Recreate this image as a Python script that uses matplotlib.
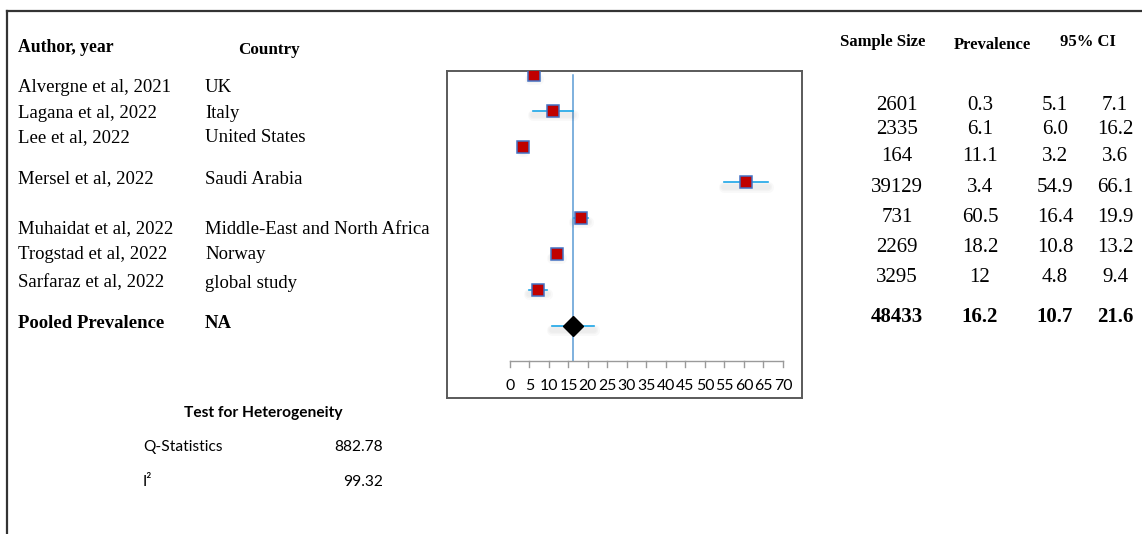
import matplotlib
matplotlib.use('Agg')
import matplotlib.pyplot as plt
import matplotlib.patheffects as pe
from matplotlib.lines import Line2D

# study table
authors = ['Alvergne et al, 2021', 'Lagana et al, 2022', 'Lee et al, 2022', 'Mersel et al, 2022',
           'Muhaidat et al, 2022', 'Trogstad et al, 2022', 'Sarfaraz et al, 2022']
countries = ['UK', 'Italy', 'United States', 'Saudi Arabia',
             'Middle-East and North Africa', 'Norway', 'global study']
sample_size = [2601, 2335, 164, 39129, 731, 2269, 3295]
prevalence = ['0.3', '6.1', '11.1', '3.4', '60.5', '18.2', '12']
ci_low = [5.1, 6.0, 3.2, 54.9, 16.4, 10.8, 4.8]
ci_high = [7.1, 16.2, 3.6, 66.1, 19.9, 13.2, 9.4]

# point estimates drawn in the forest plot
estimate = [6.1, 11.1, 3.4, 60.5, 18.2, 12.0, 7.1]

pooled_label = 'Pooled Prevalence'
pooled_country = 'NA'
pooled_n = 48433
pooled_est = 16.2
pooled_low = 10.7
pooled_high = 21.6

q_stat = 882.78
i_squared = 99.32

x_ticks = list(range(0, 75, 5))

W, H = 1142, 534
serif = 'Liberation Serif'
sans = 'Lato'

fig = plt.figure(figsize=(W / 100, H / 100), dpi=100)


def px(x, y):
    return x / W, 1 - y / H


def put(x, y, s, **kw):
    fx, fy = px(x, y)
    fig.text(fx, fy, s, va='center', **kw)


# outer frame (top and left edges)
fig.add_artist(Line2D([7 / W, 1], [1 - 11 / H] * 2, color='#333333', lw=1.6))
fig.add_artist(Line2D([7 / W] * 2, [0, 1 - 11 / H], color='#333333', lw=1.6))

# left table
put(18, 47, 'Author, year', family=serif, fontsize=12.7, weight='bold')
put(238, 50, 'Country', family=serif, fontsize=12.3, weight='bold')
left_y = [88, 113, 138, 179, 229, 255, 283]
for y, a, c in zip(left_y, authors, countries):
    put(18, y, a, family=serif, fontsize=13.5)
    put(205, y, c, family=serif, fontsize=13.5)
put(18, 323, pooled_label, family=serif, fontsize=13.5, weight='bold')
put(205, 323, pooled_country, family=serif, fontsize=13.5, weight='bold')

# right table
put(883, 42, 'Sample Size', family=serif, fontsize=12, weight='bold', ha='center')
put(992, 45, 'Prevalence', family=serif, fontsize=12, weight='bold', ha='center')
put(1088, 42, '95% CI', family=serif, fontsize=12, weight='bold', ha='center')
right_y = [105, 130, 157, 187, 217, 247, 277]
col_x = [897, 980, 1055, 1115]
for y, n, p, lo, hi in zip(right_y, sample_size, prevalence, ci_low, ci_high):
    for x, s in zip(col_x, [str(n), p, f'{lo:.1f}', f'{hi:.1f}']):
        put(x, y, s, family=serif, fontsize=15, ha='center')
for x, s in zip(col_x, [str(pooled_n), f'{pooled_est:.1f}', f'{pooled_low:.1f}', f'{pooled_high:.1f}']):
    put(x, 317, s, family=serif, fontsize=15, weight='bold', ha='center')

# heterogeneity block
put(263, 413, 'Test for Heterogeneity', family=sans, fontsize=11.2, weight='bold', ha='center')
put(143, 447, 'Q-Statistics', family=sans, fontsize=11.2)
put(383, 447, f'{q_stat:.2f}', family=sans, fontsize=11.2, ha='right')
put(143, 482, 'I²', family=sans, fontsize=11.2)
put(383, 482, f'{i_squared:.2f}', family=sans, fontsize=11.2, ha='right')

# forest plot
l, r, t, b = 447, 802, 71, 398
ax = fig.add_axes([l / W, 1 - b / H, (r - l) / W, (b - t) / H])
ax.set_xlim(-16.15, 74.9)
ax.set_ylim(9.02, -0.11)
ax.set_xticks([])
ax.set_yticks([])
for s in ax.spines.values():
    s.set_color('#5a5a5a')
    s.set_linewidth(1.4)

rows = list(range(len(estimate)))
pooled_row = len(estimate)
axis_row = pooled_row + 1

# soft drop shadow under the interval lines
shadow = [pe.SimpleLineShadow(offset=(0, -3), shadow_color='k', alpha=0.025, linewidth=w,
                              capstyle='round')
          for w in (8, 6, 4)] + [pe.Normal()]
for i, lo, hi in zip(rows, ci_low, ci_high):
    ax.plot([lo, hi], [i, i], color='#1CA6E8', lw=1.2, path_effects=shadow, zorder=2)
ax.plot([pooled_low, pooled_high], [pooled_row] * 2, color='#1CA6E8', lw=1.2,
        path_effects=shadow, zorder=2)

ax.plot([pooled_est, pooled_est], [0, axis_row], color='#5B9BD5', lw=1.1, zorder=1)

ax.plot(estimate, rows, ls='none', marker='s', ms=8.5, mfc='#C00000', mec='#4472C4',
        mew=1.1, zorder=3)
ax.plot([pooled_est], [pooled_row], ls='none', marker='D', ms=10.5, mfc='black', mec='black',
        zorder=3)

# hand-drawn x axis inside the box
ax.plot([x_ticks[0], x_ticks[-1]], [axis_row] * 2, color='#9a9a9a', lw=1.0, zorder=1)
for xt in x_ticks:
    ax.plot([xt, xt], [axis_row, axis_row + 0.15], color='#9a9a9a', lw=1.0)
    ax.text(xt, axis_row + 0.68, str(xt), ha='center', va='center', family=sans, fontsize=11.4)

fig.savefig('out.png', dpi=100)
